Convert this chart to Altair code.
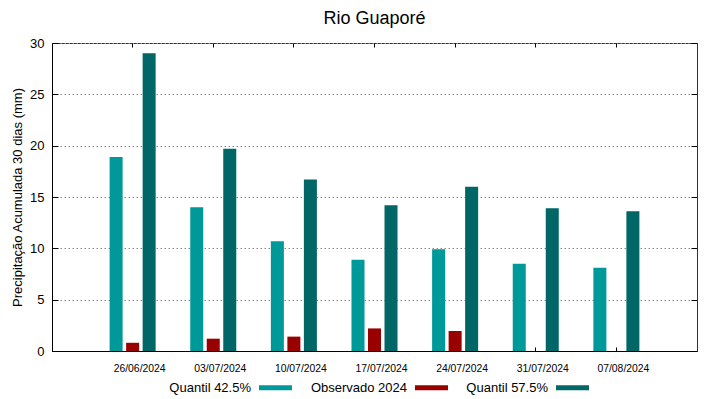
import altair as alt
import pandas as pd

dates = ["26/06/2024", "03/07/2024", "10/07/2024", "17/07/2024",
         "24/07/2024", "31/07/2024", "07/08/2024"]
q425 = [18.9, 14.0, 10.7, 8.9, 9.9, 8.5, 8.1]
obs = [0.8, 1.2, 1.4, 2.2, 1.95, None, None]
q575 = [29.0, 19.7, 16.7, 14.2, 16.0, 13.9, 13.6]
series = ["Quantil 42.5%", "Observado 2024", "Quantil 57.5%"]
colors = ["#009999", "#990000", "#006666"]
y_ticks = [0, 5, 10, 15, 20, 25, 30]
title_text = ["Rio Guaporé"]

rows = []
for name, vals in zip(series, [q425, obs, q575]):
    for d, v in zip(dates, vals):
        if v is not None:
            rows.append({"date": d, "series": name, "value": v})
df = pd.DataFrame(rows)

FONT = "Liberation Sans"
W, H = 645, 308
xscale = alt.Scale(paddingInner=0, paddingOuter=0.5)
yscale = alt.Scale(domain=[0, 30], nice=False)

base = alt.Chart(df)

bars = base.mark_bar().encode(
    x=alt.X("date:N", sort=dates, scale=xscale, title=None,
            axis=alt.Axis(orient="bottom", ticks=False, tickSize=0, labelAngle=0,
                          labelFontSize=10.4, labelPadding=12, labelOffset=7,
                          labelColor="#000", domainColor="#000", grid=False)),
    xOffset=alt.XOffset("series:N",
                        scale=alt.Scale(domain=series, range=[17.3, 63.33],
                                        paddingInner=0.212, paddingOuter=0)),
    y=alt.Y("value:Q", scale=yscale,
            title="Precipitação Acumulada 30 dias (mm)",
            axis=alt.Axis(orient="left", values=y_ticks, ticks=False, tickSize=0,
                          labelPadding=8, labelFontSize=13, labelColor="#000",
                          titleFontSize=13, titleFontWeight="normal", titleColor="#000",
                          titlePadding=5, domainColor="#000",
                          grid=True, gridDash=[1.5, 2.5], gridColor="#888")),
    color=alt.Color("series:N", scale=alt.Scale(domain=series, range=colors),
                    legend=alt.Legend(orient="none", legendX=166, legendY=328,
                                      direction="horizontal", columns=3, title=None,
                                      symbolType="M1.485,-0.15L3.485,-0.15L3.485,0.15L1.485,0.15Z",
                                      symbolSize=1089, symbolStrokeWidth=0,
                                      symbolOpacity=1,
                                      labelAlign="right", labelOffset=0,
                                      labelFontSize=13, labelColor="#000",
                                      gridAlign="each", columnPadding=17)),
)

ticks_a = base.mark_bar(opacity=0).encode(
    x=alt.X("date:N", sort=dates, scale=xscale, title=None,
            axis=alt.Axis(orient="top", labels=False, domain=False, grid=False,
                          ticks=True, tickSize=4, offset=-4, tickColor="#000",
                          bandPosition=0.5)),
    y=alt.Y("value:Q", scale=yscale, title=None,
            axis=alt.Axis(orient="right", values=y_ticks, labels=False, domain=False,
                          grid=False, ticks=True, tickSize=6, offset=-6,
                          tickColor="#000")),
)

ticks_b = base.mark_bar(opacity=0).encode(
    x=alt.X("date:N", sort=dates, scale=xscale, title=None,
            axis=alt.Axis(orient="bottom", labels=False, domain=False, grid=False,
                          ticks=True, tickSize=4, offset=-4, tickColor="#000",
                          bandPosition=0.5)),
    y=alt.Y("value:Q", scale=yscale, title=None,
            axis=alt.Axis(orient="left", values=y_ticks, labels=False, domain=False,
                          grid=False, ticks=True, tickSize=6, offset=-6,
                          tickColor="#000")),
)

title = alt.Chart(pd.DataFrame({"t": title_text})).mark_text(
    font=FONT, fontSize=18, color="#000", align="center", baseline="alphabetic"
).encode(text="t:N", x=alt.value(W / 2), y=alt.value(-19.5))

chart = alt.layer(bars, ticks_a, ticks_b, title).resolve_axis(
    x="independent", y="independent"
).properties(
    width=W, height=H,
    autosize=alt.AutoSizeParams(type="none"),
    padding={"left": 44, "top": 35, "right": 14, "bottom": 48},
).configure(font=FONT, background="#ffffff").configure_view(
    stroke="#333", strokeWidth=1
)

chart.save("out.html", embed_options={"renderer": "svg", "actions": False})
